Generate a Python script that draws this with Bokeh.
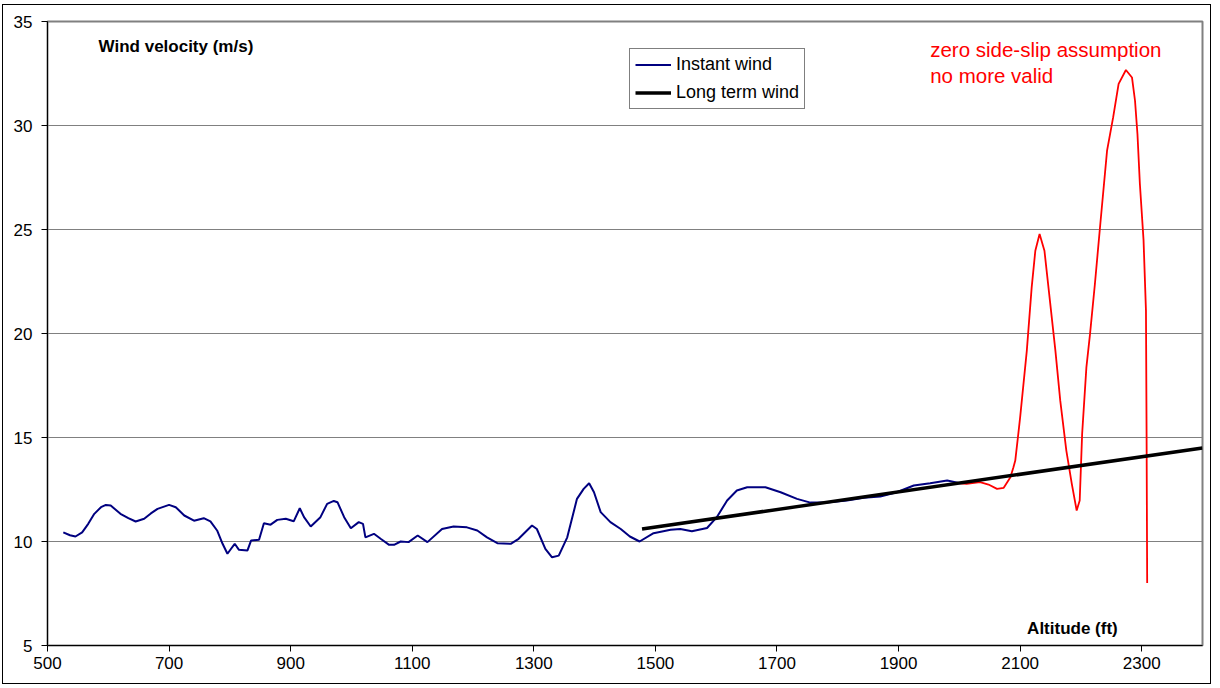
from bokeh.plotting import figure
from bokeh.models import Range1d, FixedTicker, Label, Legend, LegendItem
from bokeh.embed import file_html
from bokeh.resources import INLINE

# ---- data ----
alt_instant = [526, 537, 546, 557, 567, 577, 588, 596, 604, 620, 633, 645, 659, 670, 681,
               700, 711, 725, 741, 757, 768, 779, 788, 796, 802, 808, 815, 829, 835, 848,
               856, 867, 878, 892, 905, 915, 922, 933, 949, 960, 971, 977, 988, 999, 1012,
               1019, 1023, 1037, 1048, 1062, 1070, 1081, 1094, 1109, 1125, 1149, 1168, 1190,
               1207, 1223, 1240, 1262, 1275, 1297, 1305, 1319, 1330, 1341, 1355, 1371, 1382,
               1391, 1399, 1410, 1426, 1443, 1458, 1474, 1497, 1525, 1541, 1560, 1585, 1601,
               1618, 1634, 1651, 1681, 1706, 1733, 1755, 1782, 1815, 1843, 1870, 1897, 1925,
               1952, 1980, 2001]
wind_instant = [10.44, 10.30, 10.24, 10.44, 10.85, 11.33, 11.65, 11.76, 11.73, 11.33, 11.12,
                10.96, 11.09, 11.35, 11.57, 11.76, 11.65, 11.25, 11.00, 11.12, 10.97, 10.53,
                9.89, 9.41, 9.65, 9.89, 9.60, 9.57, 10.05, 10.08, 10.88, 10.81, 11.04, 11.09,
                10.97, 11.60, 11.17, 10.72, 11.17, 11.81, 11.95, 11.89, 11.17, 10.64, 10.93,
                10.85, 10.20, 10.37, 10.13, 9.84, 9.84, 10.00, 9.97, 10.29, 9.97, 10.60, 10.72,
                10.68, 10.53, 10.20, 9.92, 9.89, 10.13, 10.77, 10.60, 9.65, 9.24, 9.32, 10.20,
                12.05, 12.53, 12.80, 12.37, 11.41, 10.93, 10.60, 10.24, 10.00, 10.40, 10.56,
                10.60, 10.49, 10.65, 11.17, 11.97, 12.45, 12.61, 12.61, 12.37, 12.05, 11.87,
                11.87, 11.97, 12.10, 12.16, 12.37, 12.69, 12.80, 12.93, 12.80]

alt_invalid = [2001, 2012, 2034, 2048, 2062, 2073, 2084, 2089, 2092, 2097, 2100, 2111, 2119,
               2125, 2132, 2140, 2149, 2158, 2166, 2176, 2185, 2193, 2198, 2202, 2209, 2215,
               2223, 2232, 2243, 2253, 2262, 2274, 2284, 2289, 2293, 2297, 2303, 2307, 2308,
               2309]
wind_invalid = [12.80, 12.77, 12.85, 12.74, 12.53, 12.58, 13.09, 13.57, 13.89, 15.17, 15.97,
                19.18, 22.22, 23.98, 24.78, 23.98, 21.58, 19.18, 16.77, 14.37, 12.77, 11.49,
                11.97, 15.17, 18.37, 19.98, 22.38, 25.30, 28.79, 30.39, 32.00, 32.67, 32.31,
                31.19, 29.59, 27.19, 24.50, 21.10, 15.20, 8.00]

alt_longterm = [1478, 2400]
wind_longterm = [10.6, 14.5]

x_ticks = [500, 700, 900, 1100, 1300, 1500, 1700, 1900, 2100, 2300]
y_ticks = [5, 10, 15, 20, 25, 30, 35]

FONT = "Liberation Sans"

p = figure(width=1209, height=680, output_backend="svg", toolbar_location=None,
           x_range=Range1d(500, 2400), y_range=Range1d(5, 35),
           min_border_left=44, min_border_right=10, min_border_top=16, min_border_bottom=40,
           background_fill_color="white", border_fill_color="white")
p.styles = {"border": "1px solid black", "margin-left": "2px", "margin-top": "4px"}

p.xgrid.visible = False
p.ygrid.grid_line_color = "#808080"
p.ygrid.grid_line_width = 1
p.outline_line_color = "#808080"
p.outline_line_width = 2

for ax in (p.xaxis[0], p.yaxis[0]):
    ax.axis_line_color = "black"
    ax.axis_line_width = 1
    ax.major_tick_line_color = "black"
    ax.major_tick_out = 6
    ax.major_tick_in = 0
    ax.minor_tick_line_color = None
    ax.major_label_text_font = FONT
    ax.major_label_text_font_size = "17px"
    ax.major_label_text_color = "black"

p.xaxis.ticker = FixedTicker(ticks=x_ticks)
p.yaxis.ticker = FixedTicker(ticks=y_ticks)
p.xaxis.major_label_standoff = 5
p.yaxis.major_label_standoff = 9

r_red = p.line(alt_invalid, wind_invalid, line_color="#FF0000", line_width=1.8)
r_blue = p.line(alt_instant, wind_instant, line_color="#000080", line_width=2)
r_black = p.line(alt_longterm, wind_longterm, line_color="black", line_width=3.5)

legend = Legend(items=[LegendItem(label="Instant wind", renderers=[r_blue]),
                       LegendItem(label="Long term wind", renderers=[r_black])],
                location=(582, 536), border_line_color="black", border_line_width=1,
                background_fill_color="white", background_fill_alpha=1,
                padding=5, spacing=7, margin=0, glyph_width=36, glyph_height=19,
                label_standoff=5, label_height=19, label_text_font=FONT,
                label_text_font_size="18px", label_text_color="black")
p.add_layout(legend)

p.add_layout(Label(x=584, y=33.78, text="Wind velocity (m/s)", text_font=FONT,
                   text_font_size="17px", text_font_style="bold", text_baseline="middle",
                   text_color="black"))
p.add_layout(Label(x=2111.5, y=5.8, text="Altitude (ft)", text_font=FONT,
                   text_font_size="17px", text_font_style="bold", text_baseline="middle",
                   text_color="black"))
p.add_layout(Label(x=1952, y=33.63, text="zero side-slip assumption", text_font=FONT,
                   text_font_size="20.5px", text_color="#FF0000", text_baseline="middle"))
p.add_layout(Label(x=1952, y=32.38, text="no more valid", text_font=FONT,
                   text_font_size="20.5px", text_color="#FF0000", text_baseline="middle"))

open("out.html", "w").write(file_html(p, INLINE))
